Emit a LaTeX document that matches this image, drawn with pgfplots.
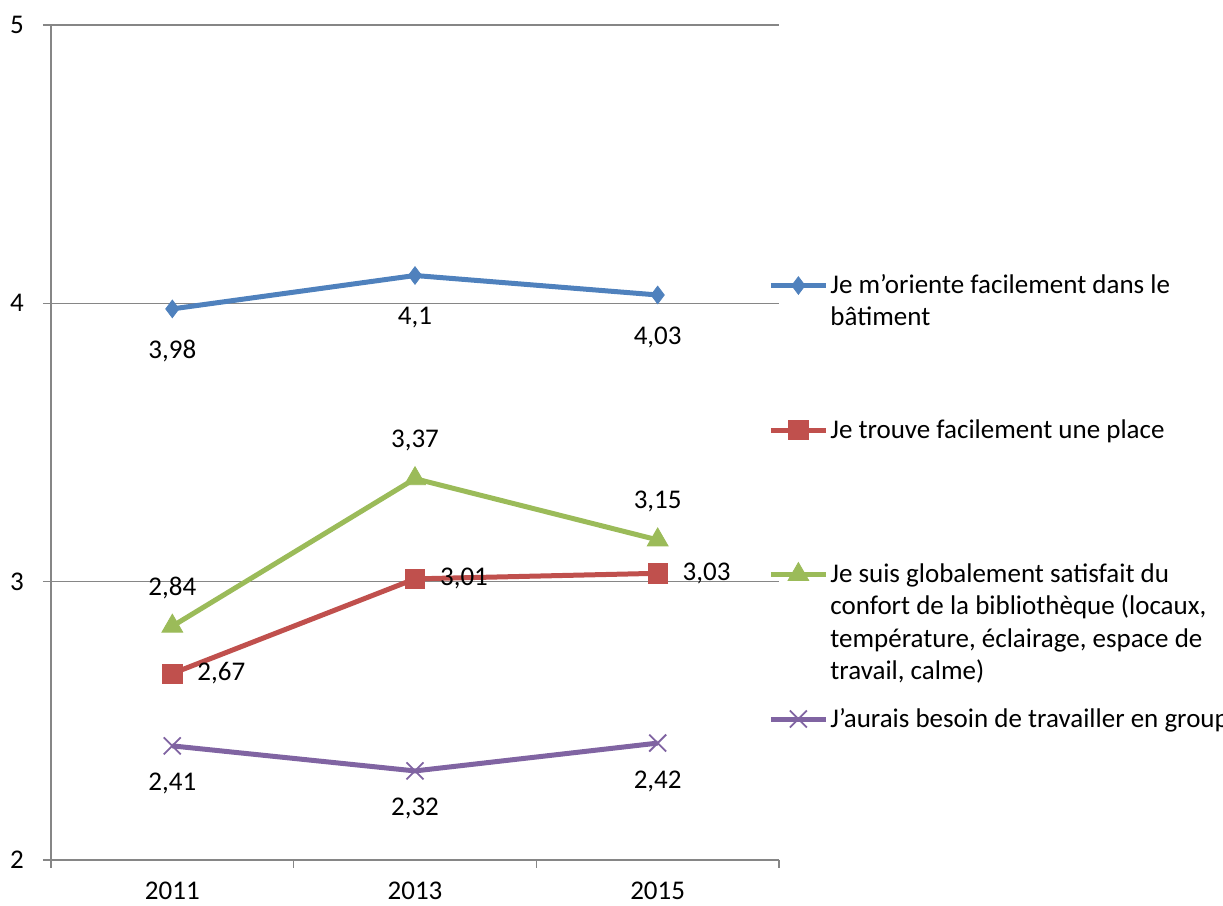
\documentclass[border=0pt]{standalone}
\usepackage{fontspec}
\setmainfont{Carlito}
\usepackage{pgfplots}
\pgfplotsset{compat=1.18}
\definecolor{gridgray}{HTML}{868686}
\definecolor{sblue}{HTML}{4F81BD}
\definecolor{sred}{HTML}{C0504D}
\definecolor{sgreen}{HTML}{9BBB59}
\definecolor{spurple}{HTML}{8064A2}
% legend text: wrapped, but counted as one line high so rows stay evenly spaced
\newcommand{\lentry}[1]{\raisebox{0pt}[10pt][4pt]{\vtop{\hsize=194pt\raggedright\noindent #1\par}}}
\begin{document}
\begin{tikzpicture}[font=\fontsize{13.5}{16.2}\selectfont]
\useasboundingbox (-25.5pt,-23pt) rectangle (586pt,430pt);
\clip (-25.5pt,-23pt) rectangle (586pt,430pt);
\begin{axis}[
  at={(0,0)}, anchor=south west,
  scale only axis, width=364pt, height=417.5pt,
  xmin=0, xmax=3, ymin=2, ymax=5,
  axis x line*=bottom, axis y line*=left,
  axis line style={gridgray, line width=1pt},
  ytick={2,3,4,5},
  ymajorgrids, grid style={gridgray, line width=0.8pt},
  xtick={0.5,1.5,2.5}, xticklabels={2011,2013,2015},
  minor xtick={0,1,2,3},
  major x tick style={draw=none},
  minor x tick style={gridgray, line width=0.8pt},
  y tick style={gridgray, line width=0.8pt},
  tick align=outside, major tick length=4pt, minor tick length=4pt,
  ticklabel style={font=\fontsize{13.5}{16.2}\selectfont},
  xticklabel style={yshift=-2.5pt},
  yticklabel style={xshift=-5pt},
  /pgf/number format/assume math mode=true,
  /pgf/number format/use comma,
  line width=2.5pt,
  nodes near coords,
  every node near coord/.append style={font=\fontsize{13.5}{16.2}\selectfont, text=black},
  legend style={at={(axis cs:2.946,4.116)}, anchor=north west, draw=none, fill=none,
    inner sep=0pt, row sep=60.75pt, cells={anchor=base west},
    nodes={inner xsep=1pt, inner ysep=0pt},
    /tikz/every even column/.append style={column sep=0pt}},
  legend image code/.code={\draw[mark repeat=2,mark phase=2] plot coordinates {(0pt,4pt)(13.75pt,4pt)(27.5pt,4pt)};},
]
\addplot[sblue, mark=diamond*, mark size=4.4pt, mark options={line width=0.4pt, fill=sblue},
  every node near coord/.append style={anchor=center, yshift=-21pt}]
  coordinates {(0.5,3.98) (1.5,4.1) (2.5,4.03)};
\addlegendentry{\lentry{Je m’oriente facilement dans le bâtiment}}
\addplot[sred, mark=square*, mark size=4.8pt, mark options={line width=0.4pt, fill=sred},
  every node near coord/.append style={anchor=west, xshift=9pt}]
  coordinates {(0.5,2.67) (1.5,3.01) (2.5,3.03)};
\addlegendentry{\lentry{Je trouve facilement une place}}
\addplot[sgreen, mark=triangle*, mark size=6pt, mark options={line width=0.4pt, fill=sgreen},
  every node near coord/.append style={anchor=center, yshift=19pt}]
  coordinates {(0.5,2.84) (1.5,3.37) (2.5,3.15)};
\addlegendentry{\lentry{Je suis globalement satisfait du confort de la bibliothèque (locaux, température, éclairage, espace de travail, calme)}}
\addplot[spurple, mark=x, mark size=6pt, mark options={line width=0.9pt},
  every node near coord/.append style={anchor=center, yshift=-19pt}]
  coordinates {(0.5,2.41) (1.5,2.32) (2.5,2.42)};
\addlegendentry{\lentry{\mbox{J’aurais besoin de travailler en groupe}}}
\end{axis}
\end{tikzpicture}
\end{document}
